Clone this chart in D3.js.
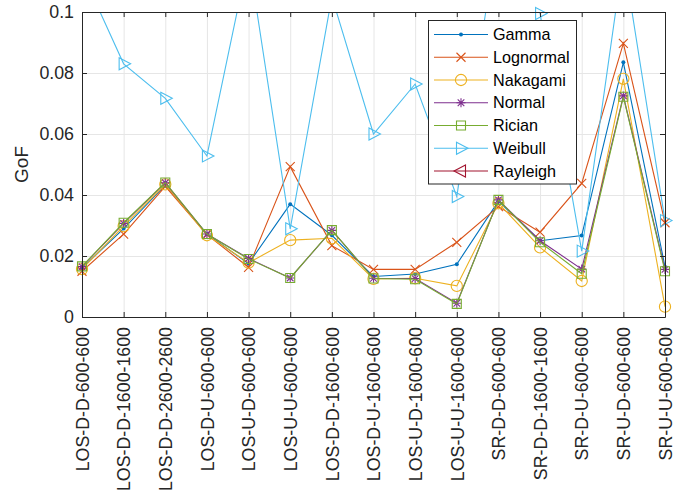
<!DOCTYPE html>
<html>
<head>
<meta charset="utf-8">
<script src="https://cdn.jsdelivr.net/npm/d3@7"></script>
<style>
  html, body { margin: 0; padding: 0; background: #fff; }
  svg { display: block; font-family: "Liberation Sans", Arial, Helvetica, sans-serif; }
</style>
</head>
<body>
<svg id="chart" width="683" height="496"></svg>
<script>
// Measurement scenarios (x categories)
const categories = [
  "LOS-D-D-600-600", "LOS-D-D-1600-1600", "LOS-D-D-2600-2600", "LOS-D-U-600-600",
  "LOS-U-D-600-600", "LOS-U-U-600-600", "LOS-D-D-1600-600", "LOS-D-U-1600-600",
  "LOS-U-D-1600-600", "LOS-U-U-1600-600", "SR-D-D-600-600", "SR-D-D-1600-1600",
  "SR-D-U-600-600", "SR-U-D-600-600", "SR-U-U-600-600"
];

// Goodness-of-fit per distribution
const gamma     = [0.0160, 0.0290, 0.0432, 0.0272, 0.0175, 0.0370, 0.0268, 0.0133, 0.0141, 0.0173, 0.0380, 0.0250, 0.0267, 0.0835, 0.0165];
const lognormal = [0.0150, 0.0272, 0.0428, 0.0270, 0.0163, 0.0493, 0.0234, 0.0156, 0.0156, 0.0245, 0.0362, 0.0278, 0.0438, 0.0897, 0.0309];
const nakagami  = [0.0157, 0.0298, 0.0435, 0.0268, 0.0178, 0.0252, 0.0258, 0.0125, 0.0127, 0.0102, 0.0373, 0.0228, 0.0118, 0.0781, 0.0034];
const normal    = [0.0165, 0.0307, 0.0440, 0.0272, 0.0192, 0.0128, 0.0284, 0.0127, 0.0126, 0.0045, 0.0384, 0.0250, 0.0157, 0.0725, 0.0156];
const rician    = [0.0166, 0.0309, 0.0441, 0.0272, 0.0190, 0.0128, 0.0285, 0.0126, 0.0124, 0.0043, 0.0384, 0.0245, 0.0142, 0.0722, 0.0150];
const weibull   = [0.1130, 0.0830, 0.0717, 0.0528, 0.1180, 0.0289, 0.1050, 0.0600, 0.0764, 0.0395, 0.1265, 0.0995, 0.0216, 0.1180, 0.0316];
// Rayleigh has no values inside the plotted range
const rayleigh  = [null, null, null, null, null, null, null, null, null, null, null, null, null, null, null];

const yTicks = [0, 0.02, 0.04, 0.06, 0.08, 0.1];
const yTickLabels = ["0", "0.02", "0.04", "0.06", "0.08", "0.1"];

const seriesNames   = ["Gamma", "Lognormal", "Nakagami", "Normal", "Rician", "Weibull", "Rayleigh"];
const seriesValues  = [gamma, lognormal, nakagami, normal, rician, weibull, rayleigh];
const seriesColors  = ["#0072BD", "#D95319", "#EDB120", "#7E2F8E", "#77AC30", "#4DBEEE", "#A2142F"];
const seriesMarkers = ["dot", "x", "circle", "star", "square", "triRight", "triLeft"];

const svg = d3.select("#chart");
const plotLeft = 82, plotRight = 665, plotTop = 12, plotBottom = 317;
const axisColor = "#262626";
const fontSize = 17.8;

const x = d3.scalePoint().domain(categories).range([plotLeft, plotRight]).padding(0);
const y = d3.scaleLinear().domain([0, 0.1]).range([plotBottom, plotTop]);

// Grid
const grid = svg.append("g");
grid.append("g").attr("transform", `translate(0,${plotBottom})`)
  .call(d3.axisBottom(x).tickSize(-(plotBottom - plotTop)).tickFormat(""))
  .call(g => g.select(".domain").remove())
  .call(g => g.selectAll("line").attr("stroke", "#e6e6e6").attr("stroke-width", 1));
grid.append("g").attr("transform", `translate(${plotLeft},0)`)
  .call(d3.axisLeft(y).tickValues(yTicks).tickSize(-(plotRight - plotLeft)).tickFormat(""))
  .call(g => g.select(".domain").remove())
  .call(g => g.selectAll("line").attr("stroke", "#e6e6e6").attr("stroke-width", 1));

// Clip region for the lines
svg.append("defs").append("clipPath").attr("id", "plotClip")
  .append("rect").attr("x", plotLeft).attr("y", plotTop)
  .attr("width", plotRight - plotLeft).attr("height", plotBottom - plotTop);

function markerPath(type) {
  switch (type) {
    case "x": return "M-4.5,-4.5L4.5,4.5M-4.5,4.5L4.5,-4.5";
    case "star": return "M-4.5,0L4.5,0M0,-4.5L0,4.5M-3.3,-3.3L3.3,3.3M-3.3,3.3L3.3,-3.3";
    case "square": return "M-4.5,-4.5H4.5V4.5H-4.5Z";
    case "circle": return d3.arc()({innerRadius: 0, outerRadius: 5.6, startAngle: 0, endAngle: 2 * Math.PI});
    case "triRight": return "M-4.5,-6L7,0L-4.5,6Z";
    case "triLeft": return "M4.5,-6L-7,0L4.5,6Z";
    default: return "";
  }
}

function drawMarker(g, type, color, cx, cy) {
  if (type === "dot") {
    g.append("circle").attr("cx", cx).attr("cy", cy).attr("r", 2).attr("fill", color);
  } else {
    g.append("path").attr("d", markerPath(type))
      .attr("transform", `translate(${cx},${cy})`)
      .attr("fill", "none").attr("stroke", color).attr("stroke-width", 1.1);
  }
}

const line = d3.line()
  .defined(d => d.v !== null)
  .x(d => x(d.c)).y(d => y(d.v));

const plot = svg.append("g");
seriesValues.forEach((vals, si) => {
  const data = vals.map((v, i) => ({c: categories[i], v}));
  const g = plot.append("g");
  g.append("path").datum(data)
    .attr("clip-path", "url(#plotClip)")
    .attr("d", line)
    .attr("fill", "none")
    .attr("stroke", seriesColors[si])
    .attr("stroke-width", 1.1);
  data.forEach(d => {
    if (d.v !== null && d.v >= 0 && d.v <= 0.1) {
      drawMarker(g, seriesMarkers[si], seriesColors[si], x(d.c), y(d.v));
    }
  });
});

// Axes (box with inward ticks)
const styleAxis = g => {
  g.selectAll(".domain").attr("stroke", axisColor).attr("stroke-width", 1);
  g.selectAll(".tick line").attr("stroke", axisColor).attr("stroke-width", 1);
  g.selectAll("text").attr("fill", axisColor).attr("font-size", fontSize)
    .attr("font-family", "Liberation Sans, Arial, sans-serif");
};

svg.append("g").attr("transform", `translate(0,${plotBottom})`)
  .call(d3.axisBottom(x).tickSizeInner(-5).tickSizeOuter(0).tickPadding(0))
  .call(styleAxis)
  .call(g => g.selectAll(".tick text")
    .attr("transform", "rotate(-90)")
    .attr("x", -10).attr("y", 0).attr("dy", "0.35em")
    .attr("text-anchor", "end"));

svg.append("g").attr("transform", `translate(0,${plotTop})`)
  .call(d3.axisTop(x).tickSizeInner(-5).tickSizeOuter(0).tickFormat(""))
  .call(styleAxis);

svg.append("g").attr("transform", `translate(${plotLeft},0)`)
  .call(d3.axisLeft(y).tickValues(yTicks).tickSizeInner(-5).tickSizeOuter(0).tickPadding(8)
    .tickFormat((d, i) => yTickLabels[i]))
  .call(styleAxis);

svg.append("g").attr("transform", `translate(${plotRight},0)`)
  .call(d3.axisRight(y).tickValues(yTicks).tickSizeInner(-5).tickSizeOuter(0).tickFormat(""))
  .call(styleAxis);

// Y axis title
svg.append("text")
  .attr("transform", `translate(28,${(plotTop + plotBottom) / 2}) rotate(-90)`)
  .attr("text-anchor", "middle")
  .attr("fill", axisColor)
  .attr("font-size", 19)
  .text("GoF");

// Legend
const lg = svg.append("g");
const lgX = 428.5, lgY = 20.5, lgW = 148, lgH = 163.5;
lg.append("rect").attr("x", lgX).attr("y", lgY).attr("width", lgW).attr("height", lgH)
  .attr("fill", "#fff").attr("stroke", axisColor).attr("stroke-width", 1);
seriesNames.forEach((name, i) => {
  const ry = 34.5 + i * 22.75;
  lg.append("line").attr("x1", 434).attr("x2", 488).attr("y1", ry).attr("y2", ry)
    .attr("stroke", seriesColors[i]).attr("stroke-width", 1.1);
  drawMarker(lg, seriesMarkers[i], seriesColors[i], 461, ry);
  lg.append("text").attr("x", 493).attr("y", ry).attr("dy", "0.35em")
    .attr("font-size", 16.2).attr("fill", "#000").text(name);
});
</script>
</body>
</html>
